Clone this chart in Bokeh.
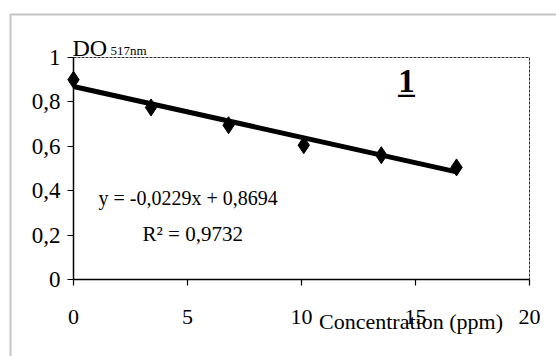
from bokeh.plotting import figure
from bokeh.models import Range1d, FixedTicker, Label, BoxAnnotation
from bokeh.embed import file_html
from bokeh.resources import INLINE

# Absorbance at 517 nm versus concentration
conc = [0, 3.4, 6.8, 10.1, 13.5, 16.8]
absorb = [0.90, 0.775, 0.695, 0.605, 0.56, 0.505]

# Linear fit reported on the chart
slope = -0.0229
intercept = 0.8694
r_squared = 0.9732

x_ticks = [0, 5, 10, 15, 20]
y_ticks = [0, 0.2, 0.4, 0.6, 0.8, 1]
y_tick_labels = ["0", "0,2", "0,4", "0,6", "0,8", "1"]

# Page geometry (pixels): the canvas is one large frame, the axes sit inside it
W, H = 556, 356
AX_LEFT, AX_RIGHT, AX_TOP, AX_BOTTOM = 73, 529, 57, 279
BOX_LEFT, BOX_TOP = 10, 14

x_lo, x_hi = x_ticks[0], x_ticks[-1]
y_lo, y_hi = y_ticks[0], y_ticks[-1]
px_x = (AX_RIGHT - AX_LEFT) / (x_hi - x_lo)
px_y = (AX_BOTTOM - AX_TOP) / (y_hi - y_lo)
X0 = x_lo - AX_LEFT / px_x
X1 = X0 + W / px_x
Y1 = y_hi + AX_TOP / px_y
Y0 = Y1 - H / px_y

SERIF = "Liberation Serif"

p = figure(
    width=W, height=H,
    x_range=Range1d(X0, X1), y_range=Range1d(Y0, Y1),
    output_backend="svg", toolbar_location=None,
    min_border=0,
    background_fill_color="white", border_fill_color="white",
)
p.grid.visible = False
p.outline_line_color = None

for ax, lo, hi in ((p.xaxis[0], x_lo, x_hi), (p.yaxis[0], y_lo, y_hi)):
    ax.fixed_location = 0
    ax.bounds = (lo, hi)
    ax.axis_line_color = "black"
    ax.axis_line_width = 1.5
    ax.major_tick_line_color = "black"
    ax.major_tick_line_width = 1.2
    ax.major_tick_in = 0
    ax.major_tick_out = 6
    ax.minor_tick_line_color = None
    ax.major_label_text_font = SERIF
    ax.major_label_text_color = "black"

p.xaxis.ticker = FixedTicker(ticks=x_ticks)
p.xaxis.major_label_text_font_size = "22px"
p.xaxis.major_label_standoff = 24

p.yaxis.ticker = FixedTicker(ticks=y_ticks)
p.yaxis.major_label_overrides = {t: s for t, s in zip(y_ticks, y_tick_labels)}
p.yaxis.major_label_text_font_size = "23px"
p.yaxis.major_label_standoff = 7

# Outer frame: top and left rules only (the other sides fall off the canvas)
p.add_layout(BoxAnnotation(
    left=X0 + BOX_LEFT / px_x, top=Y1 - BOX_TOP / px_y,
    right=X1 + 5, bottom=Y0 - 1,
    fill_color=None, line_color="#3a3a3a", line_width=2,
))

# Dashed plot border along the top and right of the axes
p.line([x_lo, x_hi, x_hi], [y_hi, y_hi, y_lo], line_color="#333333", line_width=1,
       line_dash="3 1")

# Trend line across the measured range
fit_x = [min(conc), max(conc)]
fit_y = [slope * x + intercept for x in fit_x]
p.line(fit_x, fit_y, line_color="black", line_width=5)

p.scatter(conc, absorb, marker="diamond", size=17, fill_color="black", line_color="black")

# Axis titles
p.add_layout(Label(x=0, y=1, x_offset=-1, y_offset=10, text="DO", text_font=SERIF,
                   text_font_size="24px", text_color="black", text_baseline="alphabetic"))
p.add_layout(Label(x=0, y=1, x_offset=37, y_offset=7, text="517nm", text_font=SERIF,
                   text_font_size="13px", text_color="black", text_baseline="alphabetic"))
p.add_layout(Label(x=10.77, y=0, y_offset=-42, text="Concentration (ppm)", text_font=SERIF,
                   text_font_size="22px", text_color="black", text_baseline="alphabetic"))

# Panel number
p.add_layout(Label(x=14.6, y=0.85, y_offset=10, text="1", text_font=SERIF, text_font_size="33px",
                   text_font_style="bold", text_color="black", text_align="center",
                   text_baseline="alphabetic"))
p.add_layout(Label(x=14.6, y=0.85, y_offset=10, text="_", text_font=SERIF, text_font_size="33px",
                   text_font_style="bold", text_color="black", text_align="center",
                   text_baseline="alphabetic"))

# Regression equation
eq_text = "y = -{:.4f}x + {:.4f}".format(abs(slope), intercept).replace(".", ",")
r2_text = "R² = {:.4f}".format(r_squared).replace(".", ",")
p.add_layout(Label(x=1.1, y=0.365, text=eq_text, text_font=SERIF, text_font_size="20px",
                   text_color="black", text_baseline="middle"))
p.add_layout(Label(x=5.23, y=0.207, text=r2_text, text_font=SERIF, text_font_size="21px",
                   text_color="black", text_align="center", text_baseline="middle"))

open("out.html", "w").write(file_html(p, INLINE))
